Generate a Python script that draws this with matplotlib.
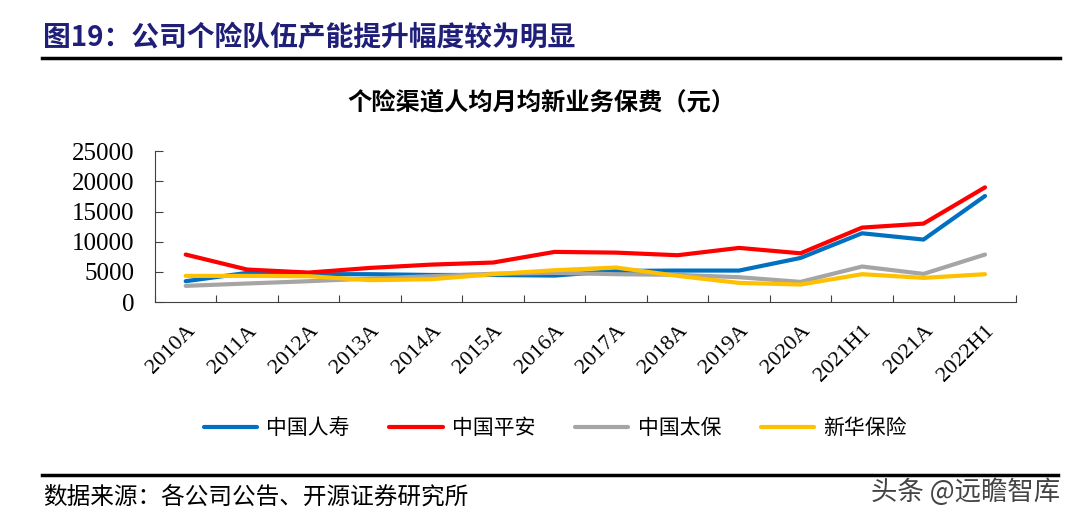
import matplotlib.pyplot as plt
import numpy as np

plt.rcParams['font.family'] = ['Noto Sans CJK SC', 'DejaVu Sans']

categories = ['2010A', '2011A', '2012A', '2013A', '2014A', '2015A', '2016A',
              '2017A', '2018A', '2019A', '2020A', '2021H1', '2021A', '2022H1']
china_life = [3470, 4850, 4630, 4630, 4500, 4500, 4400, 5170, 5230, 5230, 7320, 11400, 10360, 17570]
ping_an = [7880, 5400, 4900, 5670, 6220, 6560, 8320, 8200, 7770, 8980, 8090, 12340, 13000, 19000]
cpic = [2700, 3090, 3470, 3910, 4300, 4700, 4850, 4630, 4520, 4130, 3360, 5900, 4680, 7880]
nci = [4350, 4350, 4300, 3640, 3800, 4630, 5290, 5730, 4350, 3190, 2920, 4630, 4020, 4630]

series = [('中国人寿', china_life, '#0070C0'),
          ('中国平安', ping_an, '#FF0000'),
          ('中国太保', cpic, '#A5A5A5'),
          ('新华保险', nci, '#FFC000')]


def main():
    fig = plt.figure(figsize=(10.76, 5.21), dpi=100)
    ax = fig.add_axes([0.144, 0.420, 0.800, 0.290])

    x = np.arange(len(categories))
    for name, vals, color in series:
        ax.plot(x, vals, color=color, linewidth=3, label=name, solid_capstyle='round')

    ax.set_xlim(-0.5, len(categories) - 0.5)
    ax.set_ylim(0, 25000)
    ax.set_yticks(np.arange(0, 25001, 5000))
    ax.set_yticklabels([str(v) for v in range(0, 25001, 5000)],
                       family=['Liberation Serif'], fontsize=18)

    # category labels between boundary ticks
    ax.set_xticks(np.arange(-0.5, len(categories), 1))
    ax.set_xticklabels([])
    ax.set_xticks(x, minor=True)
    ax.set_xticklabels(categories, minor=True, rotation=45, ha='right',
                       rotation_mode='anchor', family=['Liberation Serif'], fontsize=16)
    ax.tick_params(axis='x', which='minor', length=0, pad=14)
    ax.tick_params(axis='x', which='major', length=5, direction='in', color='#404040')
    ax.tick_params(axis='y', length=6, direction='in', color='#404040', pad=15)

    for s in ['top', 'right']:
        ax.spines[s].set_visible(False)
    ax.spines['left'].set_color('#404040')
    ax.spines['bottom'].set_color('#404040')

    fig.legend(loc='center', bbox_to_anchor=(0.516, 0.178), ncol=4, frameon=False,
               fontsize=15, handlelength=2.55, columnspacing=1.9, handletextpad=0.45)

    # headings
    fig.text(0.040, 0.927, '图19：公司个险队伍产能提升幅度较为明显', fontsize=20,
             fontweight='bold', color='#1F1F7A', va='center', ha='left')
    fig.add_artist(plt.Line2D([0.039, 0.985], [0.889, 0.889], color='black', linewidth=2.5))
    fig.text(0.503, 0.804, '个险渠道人均月均新业务保费（元）', fontsize=17.5,
             fontweight='bold', va='center', ha='center')

    # footer
    fig.add_artist(plt.Line2D([0.039, 0.983], [0.088, 0.088], color='black', linewidth=2.5))
    fig.text(0.040, 0.046, '数据来源：各公司公告、开源证券研究所', fontsize=17,
             va='center', ha='left')
    fig.text(0.985, 0.055, '头条 @远瞻智库', fontsize=19, color='#444444',
             va='center', ha='right')

    fig.savefig('out.png', dpi=100)


if __name__ == "__main__":
    main()
